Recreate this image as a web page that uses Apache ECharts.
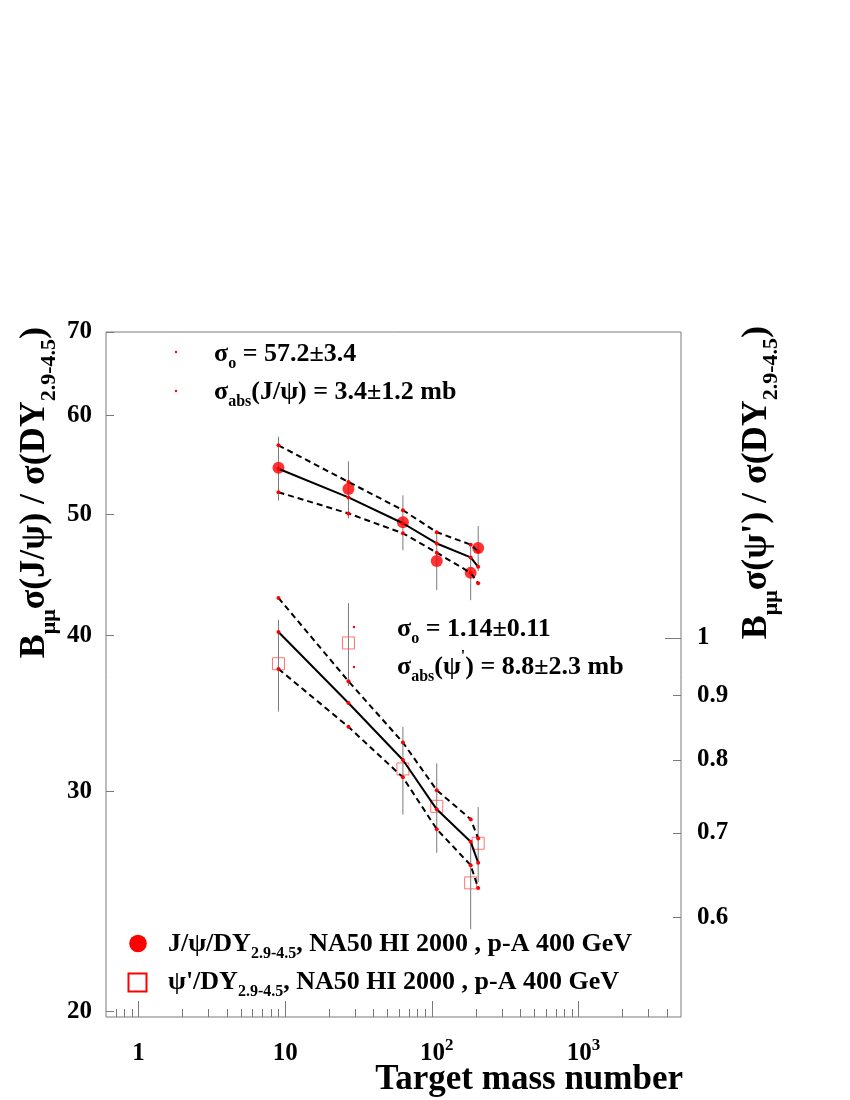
<!DOCTYPE html>
<html>
<head>
<meta charset="utf-8">
<script src="https://cdn.jsdelivr.net/npm/echarts@6/dist/echarts.min.js"></script>
<style>
html,body{margin:0;padding:0;background:#fff;}
#chart{width:850px;height:1100px;}
</style>
</head>
<body>
<div id="chart"></div>
<script>
// ---------- data ----------
const targetA   = [9, 27, 63.5, 108, 184, 207];
// J/psi / DY (left axis)
const jpsiVal   = [54.5, 52.4, 49.3, 45.9, 44.9, 47.0];
const jpsiErr   = [3.2, 2.75, 2.5, 2.4, 2.2, 1.95];
const jpsiFitC  = [54.4, 51.6, 49.2, 47.4, 46.2, 45.4];
const jpsiFitU  = [56.8, 53.1, 50.4, 48.4, 47.3, 46.7];
const jpsiFitL  = [52.1, 50.1, 48.3, 46.6, 44.9, 44.05];
// psi' / DY (right axis)
const psipVal   = [0.954, 0.991, 0.787, 0.735, 0.639, 0.687];
const psipErr   = [0.080, 0.075, 0.063, 0.060, 0.052, 0.047];
const psipFitC  = [1.011, 0.888, 0.800, 0.731, 0.689, 0.663];
const psipFitU  = [1.076, 0.924, 0.826, 0.757, 0.718, 0.693];
const psipFitL  = [0.945, 0.850, 0.775, 0.705, 0.660, 0.633];
// axes
const xRange      = [0.6, 5000];
const xMajorTicks = [1, 10, 100, 1000];
const xMinorTicks = [0.7,0.8,0.9, 2,3,4,5,6,7,8,9, 20,30,40,50,60,70,80,90, 200,300,400,500,600,700,800,900, 2000,3000,4000];
const yLeftRange  = [19.8, 70];
const yLeftTicks  = [20, 30, 40, 50, 60, 70];
const yRightRange = [0.5, 1.75];
const yRightMajor = [1];
const yRightMinor = [0.6, 0.7, 0.8, 0.9];
const yRightLabels = [0.6, 0.7, 0.8, 0.9, 1];

// ---------- helpers ----------
const L = Math.log10;
const FONT = '"Liberation Serif", "Times New Roman", serif';
const GRAY = '#7a7a7a';
const RED = '#ff0000';

const chart = echarts.init(document.getElementById('chart'), null, {renderer: 'canvas'});

function errData(vals, errs) {
  return targetA.map((a, i) => [L(a), L(vals[i] - errs[i]), L(vals[i] + errs[i])]);
}
function pts(vals) { return targetA.map((a, i) => [L(a), L(vals[i])]); }

function errSeries(vals, errs, yIdx) {
  return {
    type: 'custom', xAxisIndex: 0, yAxisIndex: yIdx, z: 1, silent: true,
    data: errData(vals, errs),
    renderItem: function (params, api) {
      const p1 = api.coord([api.value(0), api.value(1)]);
      const p2 = api.coord([api.value(0), api.value(2)]);
      return {type: 'line', shape: {x1: p1[0], y1: p1[1], x2: p2[0], y2: p2[1]},
              style: {stroke: GRAY, lineWidth: 1}};
    }
  };
}
function fitSeries(vals, yIdx, dashed) {
  return {
    type: 'line', xAxisIndex: 0, yAxisIndex: yIdx, z: 5, silent: true,
    data: pts(vals), symbol: 'circle', symbolSize: 4, showSymbol: true,
    itemStyle: {color: RED},
    lineStyle: {color: '#000', width: 2, type: dashed ? [6, 4] : 'solid'}
  };
}

const labelFont = {fontFamily: FONT, fontWeight: 'bold', color: '#000'};
const TICKFS = 25;
const noLine = {show: false, onZero: false};

const option = {
  animation: false,
  backgroundColor: '#fff',
  grid: {left: 106, right: 169, top: 332, bottom: 83, show: true,
         borderColor: GRAY, borderWidth: 1, backgroundColor: 'transparent'},
  xAxis: [
    {type: 'value', position: 'bottom', min: L(xRange[0]), max: L(xRange[1]),
     axisLine: noLine, splitLine: {show: false},
     axisTick: {show: true, inside: true, length: 16, lineStyle: {color: GRAY},
                customValues: xMajorTicks.map(L)},
     axisLabel: {show: true, margin: 20, customValues: xMajorTicks.map(L),
       formatter: function (v) {
         const e = Math.round(v);
         if (e <= 1) return '{b|' + Math.round(Math.pow(10, e)) + '}';
         return '{pad|}{b|10}{sup|' + e + '}';
       },
       rich: {
         b: Object.assign({fontSize: TICKFS, lineHeight: 34, verticalAlign: 'middle'}, labelFont),
         sup: Object.assign({fontSize: 17, lineHeight: 17, verticalAlign: 'top'}, labelFont),
         pad: {width: 10}
       }}},
    {type: 'value', position: 'bottom', min: L(xRange[0]), max: L(xRange[1]),
     axisLine: noLine, splitLine: {show: false},
     axisTick: {show: true, inside: true, length: 8, lineStyle: {color: GRAY},
                customValues: xMinorTicks.map(L)},
     axisLabel: {show: false}}
  ],
  yAxis: [
    {type: 'value', position: 'left', min: L(yLeftRange[0]), max: L(yLeftRange[1]),
     axisLine: noLine, splitLine: {show: false},
     axisTick: {show: true, inside: true, length: 8, lineStyle: {color: GRAY},
                customValues: yLeftTicks.map(L)},
     axisLabel: Object.assign({show: true, margin: 14, fontSize: TICKFS,
       customValues: yLeftTicks.map(L),
       formatter: v => String(Math.round(Math.pow(10, v)))}, labelFont)},
    {type: 'value', position: 'right', min: L(yRightRange[0]), max: L(yRightRange[1]),
     axisLine: noLine, splitLine: {show: false},
     axisTick: {show: true, inside: true, length: 16, lineStyle: {color: GRAY},
                customValues: yRightMajor.map(L)},
     axisLabel: Object.assign({show: true, margin: 16, fontSize: TICKFS,
       customValues: yRightLabels.map(L),
       formatter: v => String(parseFloat(Math.pow(10, v).toFixed(2)))}, labelFont)},
    {type: 'value', position: 'right', min: L(yRightRange[0]), max: L(yRightRange[1]),
     axisLine: noLine, splitLine: {show: false},
     axisTick: {show: true, inside: true, length: 8, lineStyle: {color: GRAY},
                customValues: yRightMinor.map(L)},
     axisLabel: {show: false}}
  ],
  series: [
    errSeries(jpsiVal, jpsiErr, 0),
    errSeries(psipVal, psipErr, 1),
    {type: 'scatter', xAxisIndex: 0, yAxisIndex: 0, z: 3, silent: true,
     data: pts(jpsiVal), symbol: 'circle', symbolSize: 12, itemStyle: {color: RED}},
    {type: 'scatter', xAxisIndex: 0, yAxisIndex: 1, z: 3, silent: true,
     data: pts(psipVal), symbol: 'rect', symbolSize: 12,
     itemStyle: {color: 'rgba(0,0,0,0)', borderColor: '#ff5050', borderWidth: 1}},
    fitSeries(jpsiFitC, 0, false),
    fitSeries(jpsiFitU, 0, true),
    fitSeries(jpsiFitL, 0, true),
    fitSeries(psipFitC, 1, false),
    fitSeries(psipFitU, 1, true),
    fitSeries(psipFitL, 1, true)
  ]
};

// ---------- texts (titles, annotations, legend) ----------
const richMain = (fs) => ({
  b:   {fontFamily: FONT, fontWeight: 'bold', fontSize: fs, lineHeight: Math.round(fs * 1.4), verticalAlign: 'middle', fill: '#000'},
  s:   {fontFamily: FONT, fontWeight: 'bold', fontSize: Math.round(fs * 0.62), lineHeight: Math.round(fs * 0.62), verticalAlign: 'bottom', fill: '#000'},
  sup: {fontFamily: FONT, fontWeight: 'bold', fontSize: Math.round(fs * 0.62), lineHeight: Math.round(fs * 0.62), verticalAlign: 'top', fill: '#000'}
});
function txt(x, y, text, fs, align, rot) {
  return {type: 'text', x: x, y: y, rotation: rot || 0, silent: true,
          style: {text: text, align: align || 'left', verticalAlign: 'middle', rich: richMain(fs)}};
}
function dot(x, y) {
  return {type: 'circle', shape: {cx: x, cy: y, r: 1.2}, style: {fill: RED}, silent: true};
}

option.graphic = [
  // y-axis titles
  txt(35, 327, '{b|B}{s|μμ}{b|σ(J/ψ) / σ(DY}{s|2.9-4.5}{b|)}', 36, 'right', Math.PI / 2),
  txt(757, 326, '{b|B}{s|μμ}{b|σ(ψ\') / σ(DY}{s|2.9-4.5}{b|)}', 36, 'right', Math.PI / 2),
  // x-axis title
  txt(683, 1080, '{b|Target mass number}', 35, 'right'),
  // J/psi fit annotation
  dot(176, 352), dot(176, 391),
  txt(214, 354, '{b|σ}{s|o}{b| = 57.2±3.4}', 26),
  txt(214, 392, '{b|σ}{s|abs}{b|(J/ψ) = 3.4±1.2 mb}', 26),
  // psi' fit annotation
  dot(354, 627), dot(354, 667),
  txt(397, 629, '{b|σ}{s|o}{b| = 1.14±0.11}', 26),
  txt(397, 667, '{b|σ}{s|abs}{b|(ψ}{sup|\'}{b|) = 8.8±2.3 mb}', 26),
  // legend
  {type: 'circle', shape: {cx: 138, cy: 943.5, r: 8.8}, style: {fill: RED}, silent: true},
  {type: 'rect', shape: {x: 128.5, y: 973.5, width: 18, height: 18},
   style: {fill: 'none', stroke: RED, lineWidth: 2}, silent: true},
  txt(168, 944, '{b|J/ψ/DY}{s|2.9-4.5}{b|, NA50 HI 2000 , p-A 400 GeV}', 26),
  txt(168, 982, '{b|ψ\'/DY}{s|2.9-4.5}{b|, NA50 HI 2000 , p-A 400 GeV}', 26)
];

chart.setOption(option);
</script>
</body>
</html>
